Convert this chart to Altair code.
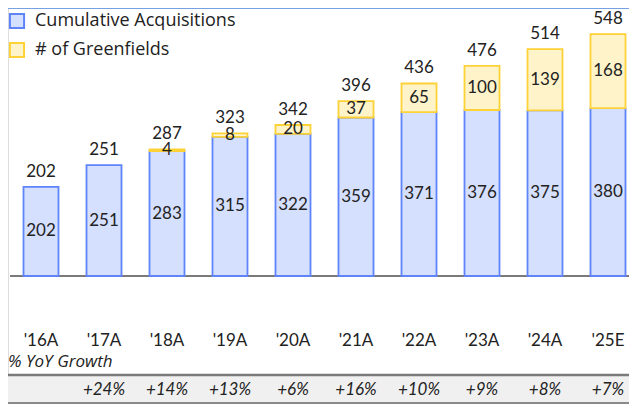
import altair as alt
import pandas as pd

years = ["'16A", "'17A", "'18A", "'19A", "'20A", "'21A", "'22A", "'23A", "'24A", "'25E"]
acquisitions = [202, 251, 283, 315, 322, 359, 371, 376, 375, 380]
greenfields = [0, 0, 4, 8, 20, 37, 65, 100, 139, 168]
growth = ["", "+24%", "+14%", "+13%", "+6%", "+16%", "+10%", "+9%", "+8%", "+7%"]
series_names = ["Cumulative Acquisitions", "# of Greenfields"]
row_title = ["% YoY Growth"]

FONT = "Lato"
FONT2 = "Open Sans"
W, H = 621, 396

rows = []
for yr, a, g in zip(years, acquisitions, greenfields):
    rows.append({"year": yr, "series": series_names[0], "y0": 0, "y1": a, "val": a})
    if g > 0:
        rows.append({"year": yr, "series": series_names[1], "y0": a, "y1": a + g, "val": g})
bars_df = pd.DataFrame(rows)
bars_df["mid"] = (bars_df["y0"] + bars_df["y1"]) / 2

tot_df = pd.DataFrame({
    "year": years,
    "total": [a + g for a, g in zip(acquisitions, greenfields)],
    "growth": growth,
})
one_df = pd.DataFrame({"label": row_title})

xs = alt.Scale(type="point", domain=years, range=[33, 600], padding=0)
ys = alt.Scale(domain=[0, 607], range=[268, 0], nice=False, zero=False)

fill_scale = alt.Scale(domain=series_names, range=["#D5DFFE", "#FEF3C9"])
stroke_scale = alt.Scale(domain=series_names, range=["#5F84FA", "#FDD237"])

X = alt.X("year:N", scale=xs, axis=None)

legend = alt.Legend(
    title=None, orient="none", legendX=0, legendY=4,
    symbolType="square", symbolSize=200, symbolStrokeWidth=2,
    labelFont=FONT2, labelFontSize=18, labelColor="#222222",
    labelOffset=9, rowPadding=5, labelLimit=400,
)

bars = alt.Chart(bars_df).mark_bar(size=35, strokeWidth=1.8).encode(
    x=X,
    y=alt.Y("y0:Q", scale=ys, axis=None),
    y2="y1:Q",
    fill=alt.Fill("series:N", scale=fill_scale, legend=legend, sort=series_names),
    stroke=alt.Stroke("series:N", scale=stroke_scale, legend=legend, sort=series_names),
)

inner = alt.Chart(bars_df).mark_text(font=FONT, fontSize=17, color="#222222", baseline="middle").encode(
    x=X, y=alt.Y("mid:Q", scale=ys), text="val:Q"
)

top = alt.Chart(tot_df).mark_text(font=FONT, fontSize=17, color="#222222", baseline="bottom", dy=-6).encode(
    x=X, y=alt.Y("total:Q", scale=ys), text="total:Q"
)

baseline = alt.Chart(one_df).mark_rule(color="#7A7A7A", strokeWidth=2).encode(
    x=alt.value(2), x2=alt.value(W), y=alt.value(268)
)

topline = alt.Chart(one_df).mark_rule(color="#76A2E2", strokeWidth=2).encode(
    x=alt.value(0), x2=alt.value(W), y=alt.value(0)
)

year_labels = alt.Chart(tot_df).mark_text(font=FONT, fontSize=17, color="#222222", baseline="middle").encode(
    x=X, y=alt.value(333), text="year:N"
)

yoy_title = alt.Chart(one_df).mark_text(
    font=FONT2, fontSize=17, fontStyle="italic", color="#222222", align="left", baseline="middle"
).encode(x=alt.value(0), y=alt.value(354), text="label:N")

band = alt.Chart(one_df).mark_rect(color="#F0F0F0").encode(
    x=alt.value(0), x2=alt.value(W), y=alt.value(368), y2=alt.value(395)
)
band_top = alt.Chart(one_df).mark_rule(color="#7A7A7A", strokeWidth=2.5).encode(
    x=alt.value(0), x2=alt.value(W), y=alt.value(367)
)
band_bot = alt.Chart(one_df).mark_rule(color="#8A8A8A", strokeWidth=2).encode(
    x=alt.value(0), x2=alt.value(W), y=alt.value(395)
)

growth_labels = alt.Chart(tot_df).mark_text(
    font=FONT, fontSize=17, fontStyle="italic", color="#222222", baseline="middle"
).encode(x=X, y=alt.value(382), text="growth:N")

chart = alt.layer(
    topline, band, band_top, band_bot, baseline, bars, inner, top,
    year_labels, yoy_title, growth_labels,
).properties(
    width=W, height=H, padding=0, autosize=alt.AutoSizeParams(type="none")
).configure_view(strokeWidth=0).configure(background="white")

chart.save("out.html", embed_options={"renderer": "svg", "actions": False})
